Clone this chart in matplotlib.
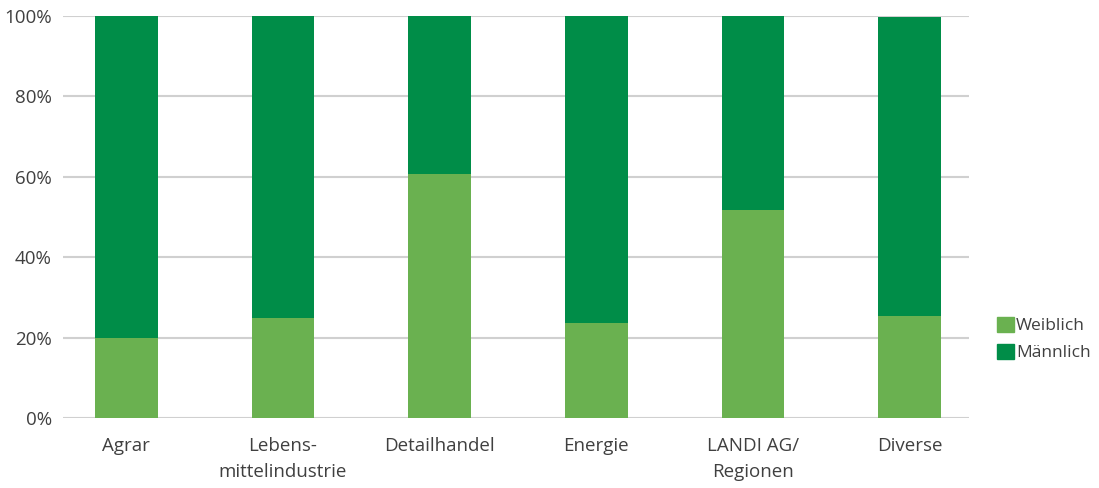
import matplotlib
matplotlib.use("Agg")
import matplotlib.pyplot as plt
import numpy as np
from matplotlib.patches import Patch

categories = ["Agrar", "Lebens-\nmittelindustrie", "Detailhandel", "Energie",
              "LANDI AG/\nRegionen", "Diverse"]
weiblich = [20.0, 25.0, 60.8, 23.7, 51.8, 25.5]
maennlich = [80.0, 75.0, 39.2, 76.3, 48.2, 74.2]

c_w = "#6ab150"
c_m = "#008d48"
txt = "#404040"

plt.rcParams["font.family"] = ["Open Sans", "DejaVu Sans"]

fig = plt.figure(figsize=(10.99, 4.88), dpi=100)
ax = fig.add_axes([0.0573, 0.1434, 0.8244, 0.8238])

x = np.arange(len(categories))
ax.bar(x, weiblich, width=0.40, color=c_w, zorder=3)
ax.bar(x, maennlich, width=0.40, bottom=weiblich, color=c_m, zorder=3)

ax.set_xlim(-0.405, 5.38)
ax.set_ylim(0, 100)
ax.set_yticks([0, 20, 40, 60, 80, 100])
ax.set_yticklabels(["0%", "20%", "40%", "60%", "80%", "100%"])
ax.set_xticks(x)
ax.set_xticklabels(categories, linespacing=1.55)

ax.grid(axis="y", color="#d0d0d0", linewidth=1.5, zorder=0)
ax.set_axisbelow(True)
for s in ax.spines.values():
    s.set_visible(False)
ax.tick_params(axis="both", length=0, labelsize=13.5, colors=txt)
ax.tick_params(axis="y", pad=8)
ax.tick_params(axis="x", pad=14)

handles = [Patch(color=c_w, label="Weiblich"), Patch(color=c_m, label="Männlich")]
fig.legend(handles=handles, loc="center left", bbox_to_anchor=(0.893, 0.305),
           frameon=False, fontsize=12.5, labelcolor=txt, handlelength=0.95,
           handleheight=0.95, handletextpad=0.15, labelspacing=0.55)

fig.savefig("out.png", dpi=100)
